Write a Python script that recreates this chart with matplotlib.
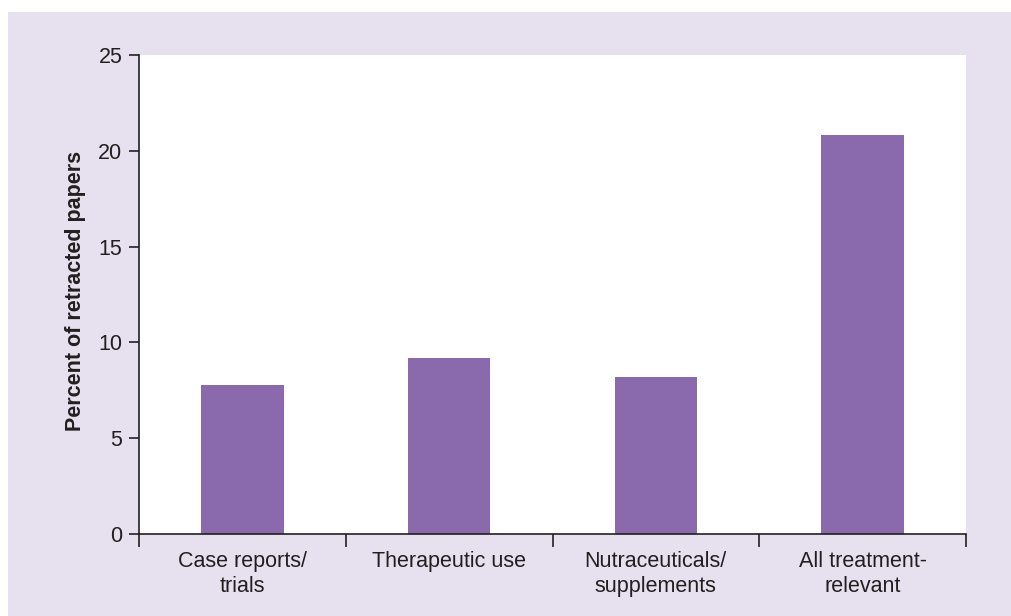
import matplotlib
matplotlib.use("Agg")
import matplotlib.pyplot as plt
from matplotlib.patches import Rectangle
import numpy as np

categories = ["Case reports/\ntrials", "Therapeutic use", "Nutraceuticals/\nsupplements", "All treatment-\nrelevant"]
values = [7.8, 9.2, 8.2, 20.8]
yticks = [0, 5, 10, 15, 20, 25]

bar_color = "#8A6AAD"
bg_color = "#E6E0EF"
text_color = "#231F20"

plt.rcParams['font.family'] = ['Liberation Sans', 'DejaVu Sans']

W, H = 1011, 616
fig = plt.figure(figsize=(W / 100, H / 100), dpi=100)
fig.patch.set_facecolor("white")
fig.patches.append(Rectangle((8 / W, 0), 1 - 8 / W, (H - 12) / H,
                             transform=fig.transFigure, facecolor=bg_color,
                             edgecolor="none", zorder=-10))

left, right, top, bottom = 139, 966, 55, 534
ax = fig.add_axes([left / W, (H - bottom) / H, (right - left) / W, (bottom - top) / H])
ax.set_zorder(5)
ax.set_facecolor("white")

x = np.arange(len(categories))
ax.bar(x, values, width=0.4, color=bar_color, zorder=2)

ax.set_xlim(-0.5, len(categories) - 0.5)
ax.set_ylim(0, 25)
ax.set_yticks(yticks)
ax.set_yticklabels([str(t) for t in yticks], fontsize=15.5, color=text_color)

ax.set_xticks(x)
ax.set_xticklabels(categories, fontsize=15.5, color=text_color, linespacing=1.3)
ax.tick_params(axis='x', which='major', length=0, pad=12)
ax.set_xticks(np.arange(len(categories) + 1) - 0.5, minor=True)
ax.tick_params(axis='x', which='minor', length=9, width=1.2, color=text_color, direction='out')
ax.tick_params(axis='y', which='major', length=7, width=1.2, color=text_color, pad=5)

for s in ['top', 'right']:
    ax.spines[s].set_visible(False)
for s in ['left', 'bottom']:
    ax.spines[s].set_color(text_color)
    ax.spines[s].set_linewidth(1.2)

ax.set_ylabel("Percent of retracted papers", fontsize=15.5, fontweight='bold',
              color=text_color, va='center')
ax.yaxis.set_label_coords((75 - left) / (right - left), (bottom - 291) / (bottom - top))

fig.savefig("out.png", dpi=100, facecolor=fig.get_facecolor())
